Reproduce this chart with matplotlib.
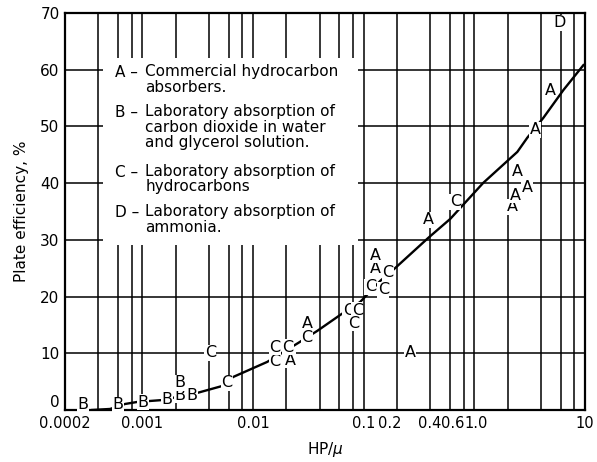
import matplotlib
matplotlib.use('Agg')
import matplotlib.pyplot as plt
from matplotlib.patches import Rectangle
from matplotlib.ticker import FixedLocator, LogLocator, NullFormatter
from matplotlib.transforms import ScaledTranslation

# data (x = HP/mu, y = plate efficiency %)
a_x = [0.0216, 0.0308, 0.127, 0.127, 0.263, 0.383, 2.20, 2.34, 3.01, 2.44, 3.55, 4.85]
a_y = [8.8, 15.3, 25.0, 27.3, 10.2, 33.5, 35.8, 37.9, 39.2, 42.0, 49.4, 56.4]
b_x = [0.00029, 0.0006, 0.00101, 0.00167, 0.0022, 0.0022, 0.0028]
b_y = [0.9, 0.9, 1.4, 1.8, 2.6, 4.8, 2.6]
c_x = [0.0041, 0.0058, 0.0158, 0.0158, 0.0207, 0.0308, 0.0725, 0.0873, 0.0804,
       0.115, 0.150, 0.166, 0.671]
c_y = [10.1, 4.8, 8.5, 11.1, 11.1, 12.7, 17.6, 17.6, 15.3, 21.7, 21.2, 24.2, 36.7]
d_x = [5.86]
d_y = [68.3]

# correlation curve
curve_x = [0.000351, 0.00051, 0.000697, 0.000895, 0.001175, 0.001538, 0.001854,
           0.003119, 0.00526, 0.006607, 0.0134, 0.02559, 0.03793, 0.06124,
           0.0929, 0.1409, 0.1928, 0.3828, 0.6053, 1.202, 2.443, 3.006,
           4.198, 6.368, 9.66]
curve_y = [0.0, 0.18, 1.06, 1.41, 1.59, 1.76, 2.12, 3.0, 4.23, 5.82, 8.47,
           11.82, 13.93, 16.75, 19.05, 22.75, 25.04, 30.34, 33.69, 40.04,
           45.5, 48.0, 51.5, 56.4, 60.8]

x_ticks = [0.0002, 0.001, 0.01, 0.1, 0.2, 0.4, 0.6, 1.0, 10]
x_labels = ['0.0002', '0.001', '0.01', '0.1', '0.2', '0.4', '0.6', '1.0', '10']
y_ticks = [0, 10, 20, 30, 40, 50, 60, 70]

legend_keys = ['A', 'B', 'C', 'D']
legend_texts = ['Commercial hydrocarbon\nabsorbers.',
                'Laboratory absorption of\ncarbon dioxide in water\nand glycerol solution.',
                'Laboratory absorption of\nhydrocarbons',
                'Laboratory absorption of\nammonia.']
legend_rows = [0.849, 0.748, 0.598, 0.497]

fig = plt.figure(figsize=(5.97, 4.62), dpi=100)
ax = fig.add_axes([0.109, 0.1126, 0.871, 0.8594])
fs = 11

ax.set_xscale('log')
ax.set_xlim(0.0002, 10)
ax.set_ylim(0, 70)

ax.xaxis.set_major_locator(FixedLocator(x_ticks))
ax.set_xticklabels(x_labels)
ax.xaxis.set_minor_locator(LogLocator(base=10, subs=(2, 4, 6, 8)))
ax.xaxis.set_minor_formatter(NullFormatter())
ax.set_yticks(y_ticks)
ax.tick_params(axis='both', which='both', length=0, labelsize=fs, pad=4)
ax.tick_params(axis='x', labelsize=10.5)

# crowded labels near 1 sit slightly off their lines, as in the print
shifts_px = [0, 0, 0, 0, -7, -1, 3, 2, 0]
for lab, dx in zip(ax.get_xticklabels(), shifts_px):
    lab.set_transform(lab.get_transform() +
                      ScaledTranslation(dx / 100, 0, fig.dpi_scale_trans))
ax.get_yticklabels()[0].set_va('bottom')

ax.set_axisbelow(True)
ax.grid(True, which='both', color='black', linewidth=1.1)
for s in ax.spines.values():
    s.set_linewidth(1.6)

# blank area behind the key
ax.add_patch(Rectangle((0.073, 0.416), 0.49, 0.471, transform=ax.transAxes,
                       facecolor='white', edgecolor='none', zorder=1.5))

ax.plot(curve_x, curve_y, color='black', linewidth=1.7, zorder=2)

box = dict(facecolor='white', edgecolor='none', pad=0.3)
for lab, xs, ys in [('A', a_x, a_y), ('B', b_x, b_y), ('C', c_x, c_y), ('D', d_x, d_y)]:
    for x, y in zip(xs, ys):
        ax.text(x, y, lab, ha='center', va='center', fontsize=11.5,
                bbox=box, zorder=3)

for key, txt, yy in zip(legend_keys, legend_texts, legend_rows):
    ax.text(0.096, yy, key + ' \u2013', transform=ax.transAxes, fontsize=fs,
            ha='left', va='center', zorder=4)
    ax.text(0.154, yy + 0.022, txt, transform=ax.transAxes, fontsize=fs,
            ha='left', va='top', linespacing=1.05, zorder=4)

ax.set_xlabel('HP/$\\mu$', fontsize=fs, labelpad=7)
ax.set_ylabel('Plate efficiency, %', fontsize=fs, labelpad=8)

fig.savefig('out.png', dpi=100)
